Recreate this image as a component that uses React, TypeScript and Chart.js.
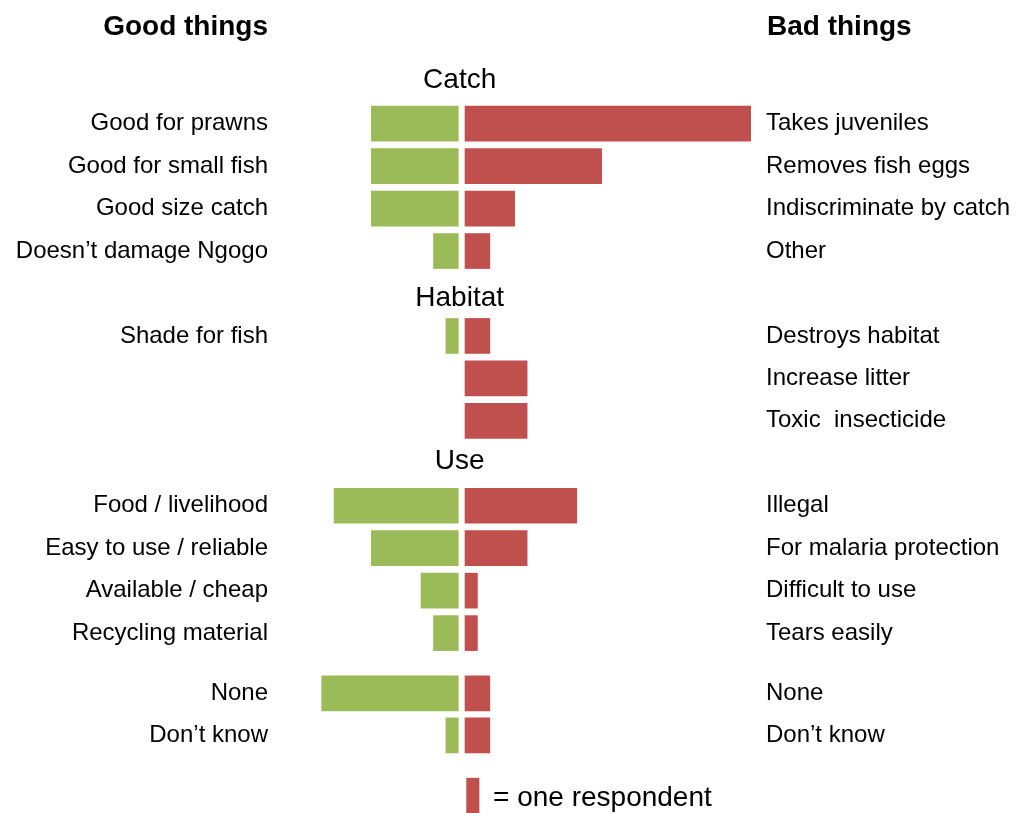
import React, { useEffect, useRef } from "react";
import { Chart, registerables } from "chart.js";

Chart.register(...registerables);

// ---- data ----
const LEFT_LABELS = [
  "Good for prawns",
  "Good for small fish",
  "Good size catch",
  "Doesn\u2019t damage Ngogo",
  "Shade for fish",
  "",
  "",
  "Food / livelihood",
  "Easy to use / reliable",
  "Available / cheap",
  "Recycling material",
  "None",
  "Don\u2019t know",
];
const RIGHT_LABELS = [
  "Takes juveniles",
  "Removes fish eggs",
  "Indiscriminate by catch",
  "Other",
  "Destroys habitat",
  "Increase litter",
  "Toxic  insecticide",
  "Illegal",
  "For malaria protection",
  "Difficult to use",
  "Tears easily",
  "None",
  "Don\u2019t know",
];
const GOOD_COUNTS = [7, 7, 7, 2, 1, 0, 0, 10, 7, 3, 2, 11, 1];
const BAD_COUNTS = [23, 11, 4, 2, 2, 5, 5, 9, 5, 1, 1, 2, 2];
const SECTIONS = ["Catch", "Habitat", "Use"];
const HEADERS = ["Good things", "Bad things"];
const LEGEND_TEXT = "= one respondent";
const LEGEND_VALUE = 1;

// ---- layout (row slots on the y scale) ----
const ROW_POS = [0, 1, 2, 3, 5, 6, 7, 9, 10, 11, 12, 13.42, 14.41];
const SECTION_BASE = [-0.85, 4.29, 8.14];
const HEADER_BASE = -2.08;
const LEGEND_POS = 15.83;
const LEGEND_TEXT_BASE = 16.08;
const GAP = 0.27;
const LEGEND_START = 0.4;
const Y_MIN = -2.914;
const Y_MAX = 16.238;
const X_MIN = -14.787;
const X_MAX = 23.699;

const GREEN = "#9BBB59";
const RED = "#C0504D";
const FONT = "'Liberation Sans', Arial, sans-serif";

export default function App() {
  const ref = useRef<HTMLCanvasElement | null>(null);

  useEffect(() => {
    document.body.style.margin = "0";
    const canvas = ref.current;
    if (!canvas) return;

    const leftIdx = LEFT_LABELS.map((l, i) => (l ? i : -1)).filter((i) => i >= 0);

    const textPlugin = {
      id: "texts",
      afterDraw(chart: any) {
        const { ctx, chartArea } = chart;
        const xs = chart.scales.x;
        const ys = chart.scales.yL;
        ctx.save();
        ctx.fillStyle = "#000";
        // column headers
        ctx.font = `bold 28px ${FONT}`;
        ctx.textBaseline = "alphabetic";
        ctx.textAlign = "right";
        ctx.fillText(HEADERS[0], chartArea.left - 10, ys.getPixelForValue(HEADER_BASE));
        ctx.textAlign = "left";
        ctx.fillText(HEADERS[1], chartArea.right + 11, ys.getPixelForValue(HEADER_BASE));
        // section headers
        ctx.font = `28px ${FONT}`;
        ctx.textAlign = "center";
        SECTIONS.forEach((s, i) => {
          ctx.fillText(s, xs.getPixelForValue(0) - 2, ys.getPixelForValue(SECTION_BASE[i]));
        });
        // legend text
        ctx.textAlign = "left";
        ctx.fillText(
          LEGEND_TEXT,
          xs.getPixelForValue(LEGEND_START + LEGEND_VALUE) + 14,
          ys.getPixelForValue(LEGEND_TEXT_BASE)
        );
        ctx.restore();
      },
    };

    const yAxis = (position: string, labelFor: (i: number) => string, positions: number[], width: number) => ({
      type: "linear",
      position,
      reverse: true,
      offset: false,
      min: Y_MIN,
      max: Y_MAX,
      grid: { display: false, drawTicks: false, offset: false },
      border: { display: false },
      ticks: {
        autoSkip: false,
        padding: 10,
        color: "#000",
        font: { family: FONT, size: 24 },
        callback: (_v: any, i: number) => labelFor(i),
      },
      afterBuildTicks: (s: any) => {
        s.ticks = positions.map((p) => ({ value: p }));
      },
      afterFit: (s: any) => {
        s.width = width;
        s.paddingTop = 0;
        s.paddingBottom = 0;
      },
    });

    const chart = new Chart(canvas, {
      type: "bar",
      data: {
        datasets: [
          {
            label: "Good",
            data: GOOD_COUNTS.map((v, i) => ({ x: [-GAP - v, -GAP], y: ROW_POS[i] })).filter(
              (_, i) => GOOD_COUNTS[i] > 0
            ),
            backgroundColor: GREEN,
          },
          {
            label: "Bad",
            data: BAD_COUNTS.map((v, i) => ({ x: [GAP, GAP + v], y: ROW_POS[i] })),
            backgroundColor: RED,
          },
          {
            label: "Legend",
            data: [{ x: [LEGEND_START, LEGEND_START + LEGEND_VALUE], y: LEGEND_POS }],
            backgroundColor: RED,
          },
        ].map((d) => ({ ...d, yAxisID: "yL", xAxisID: "x", barThickness: 35, grouped: false })) as any,
      },
      options: {
        indexAxis: "y",
        animation: false,
        responsive: false,
        devicePixelRatio: 1,
        layout: { padding: 0 },
        plugins: { legend: { display: false }, tooltip: { enabled: false } },
        scales: {
          x: {
            type: "linear",
            display: false,
            offset: false,
            min: X_MIN,
            max: X_MAX,
          },
          yL: yAxis("left", (i) => LEFT_LABELS[leftIdx[i]], leftIdx.map((i) => ROW_POS[i]), 278),
          yR: yAxis("right", (i) => RIGHT_LABELS[i], ROW_POS, 265),
        },
      } as any,
      plugins: [textPlugin],
    });

    return () => chart.destroy();
  }, []);

  return (
    <div style={{ width: 1021, height: 813 }}>
      <canvas ref={ref} width={1021} height={813} style={{ display: "block" }} />
    </div>
  );
}
